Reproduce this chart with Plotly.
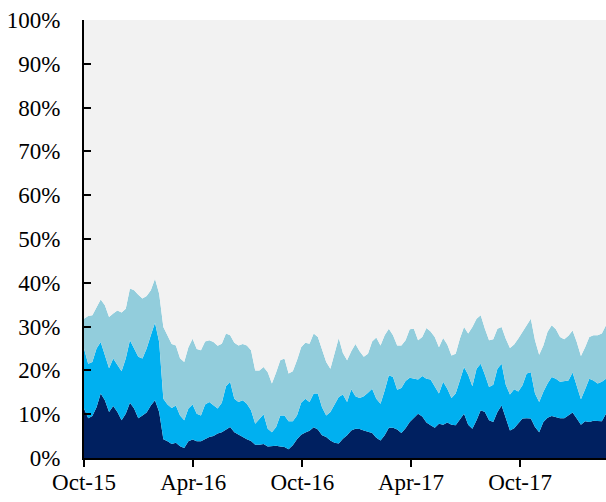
import pandas as pd
import plotly.graph_objects as go

# Weekly observation dates (x categories)
START_DATE = "2015-10-01"
N_WEEKS = 126
dates = pd.date_range(START_DATE, periods=N_WEEKS, freq="7D")

# Cumulative stacked shares (%): top edge of each band
band1_top = [
    11.3, 9.1, 9.6, 11.6, 14.7, 13.2, 10.5, 11.9, 10.5, 8.6, 10.1, 12.6, 11.3, 9.1, 9.7, 10.4, 12.0, 13.2, 10.5, 4.3, 3.8, 3.2,
    3.5, 2.7, 2.3, 3.8, 4.2, 3.8, 3.8, 4.4, 4.8, 5.0, 5.6, 5.9, 6.5, 7.1, 5.9, 5.3, 4.7, 4.3, 3.9, 3.0,
    3.0, 3.2, 2.6, 2.7, 2.8, 2.6, 2.5, 2.0, 2.9, 4.3, 5.3, 5.8, 6.2, 7.0, 6.5, 5.2, 4.8, 4.0, 3.5, 3.3, 4.4,
    5.2, 6.3, 6.7, 6.6, 6.3, 6.0, 5.7, 4.6, 4.0, 5.2, 6.9, 6.9, 6.5, 5.7, 6.8, 8.2, 9.2, 10.1, 9.5, 8.1, 7.5,
    6.9, 7.8, 7.6, 8.1, 7.6, 7.5, 8.8, 10.1, 7.6, 6.7, 8.6, 10.9, 10.5, 8.6, 8.2, 10.5, 12.0, 9.0, 6.3, 6.8,
    7.8, 9.0, 9.1, 9.0, 7.1, 5.9, 8.2, 9.2, 9.6, 9.4, 9.1, 9.1, 9.7, 10.4, 9.0, 7.6, 8.4, 8.2, 8.5, 8.4, 8.4, 10.1,
]
band2_top = [
    25.0, 21.5, 21.9, 25.0, 26.5, 23.6, 20.5, 22.7, 21.2, 19.8, 22.7, 26.9, 25.0, 23.1, 22.7, 25.0, 28.0, 30.9, 26.5, 13.5, 12.2, 11.4,
    12.0, 9.7, 8.6, 11.3, 12.2, 10.1, 9.7, 12.2, 12.8, 12.0, 11.3, 12.6, 16.4, 17.4, 13.5, 12.8, 13.2, 12.4, 10.9, 7.8,
    8.8, 10.0, 6.7, 5.9, 7.1, 9.7, 9.7, 8.4, 8.4, 9.7, 12.6, 13.5, 12.8, 14.7, 14.7, 11.6, 9.7, 10.5, 12.2, 13.9, 14.5,
    12.8, 15.7, 14.1, 13.7, 14.1, 14.9, 15.8, 13.5, 12.4, 15.4, 18.9, 18.5, 15.6, 16.0, 17.6, 18.3, 18.1, 17.9, 18.7, 18.1, 17.9,
    16.2, 14.7, 17.4, 15.8, 13.7, 14.7, 17.7, 20.8, 19.0, 16.4, 20.4, 21.5, 19.0, 16.2, 16.7, 20.4, 21.5, 16.7, 14.5, 15.7,
    15.2, 16.6, 19.3, 19.6, 14.7, 12.8, 15.1, 17.0, 18.5, 18.1, 17.4, 17.5, 17.7, 19.5, 16.6, 13.4, 15.7, 18.1, 17.7, 17.0, 17.4, 18.1,
]
band3_top = [
    31.8, 32.4, 32.6, 34.5, 36.2, 34.9, 32.2, 33.0, 33.7, 33.2, 34.1, 38.7, 38.3, 37.3, 36.4, 37.0, 38.3, 40.9, 37.5, 29.9, 28.0, 26.0,
    25.7, 22.8, 21.9, 25.3, 27.2, 24.9, 24.6, 26.6, 26.9, 26.5, 25.6, 26.1, 28.4, 28.0, 26.3, 25.7, 26.0, 25.7, 24.6, 20.0,
    20.0, 20.8, 19.6, 17.0, 19.5, 22.3, 22.7, 19.3, 19.8, 22.3, 25.3, 26.3, 26.1, 28.4, 27.6, 25.0, 21.9, 20.4, 23.8, 27.4, 24.0,
    22.3, 24.4, 26.0, 24.4, 23.1, 23.8, 26.6, 27.5, 25.7, 28.0, 29.5, 28.0, 25.7, 25.7, 26.9, 29.4, 29.5, 26.9, 27.6, 29.7, 28.9,
    27.6, 25.3, 27.4, 25.9, 23.4, 23.8, 27.2, 29.9, 28.4, 29.9, 31.8, 32.6, 29.5, 26.9, 27.1, 29.5, 29.9, 27.2, 25.1, 25.9,
    27.3, 28.9, 30.4, 31.8, 26.9, 23.6, 25.7, 28.8, 30.3, 29.4, 27.6, 27.1, 27.9, 29.1, 26.5, 23.3, 25.3, 27.6, 28.0, 28.0, 28.4, 30.3,
]
band4_top = [100.0] * N_WEEKS

colors = ["#002060", "#00B0F0", "#92CDDC", "#F2F2F2"]
levels = [band1_top, band2_top, band3_top, band4_top]

fig = go.Figure()
for k, (lvl, col) in enumerate(zip(levels, colors)):
    fig.add_trace(go.Scatter(
        x=dates, y=lvl, mode="lines",
        line=dict(width=0, color=col),
        fill="tozeroy" if k == 0 else "tonexty",
        fillcolor=col, showlegend=False, hoverinfo="skip",
    ))

font = dict(family="Liberation Serif, Times New Roman, serif", size=23, color="black")
fig.update_layout(
    width=606, height=502,
    margin=dict(l=84, r=0, t=20, b=44, autoexpand=False),
    paper_bgcolor="white", plot_bgcolor="white",
    font=font, showlegend=False,
)
fig.update_xaxes(
    type="date", range=[dates[0], dates[-1]], automargin=False,
    tick0="2015-10-01", dtick="M6", tickformat="%b-%y",
    ticks="outside", ticklen=7, tickwidth=2, tickcolor="black",
    showline=True, linecolor="black", linewidth=2,
    showgrid=False, zeroline=False, ticklabelstandoff=-5,
)
fig.update_yaxes(
    range=[0, 100], dtick=10, ticksuffix="%", automargin=False,
    ticks="inside", ticklen=7, tickwidth=2, tickcolor="black",
    showline=True, linecolor="black", linewidth=2,
    showgrid=False, zeroline=False, ticklabelstandoff=17,
)
fig.write_html(
    "out.html",
    config={"displayModeBar": False},
    post_script="document.body.style.margin='0';document.body.style.overflow='hidden';",
)
